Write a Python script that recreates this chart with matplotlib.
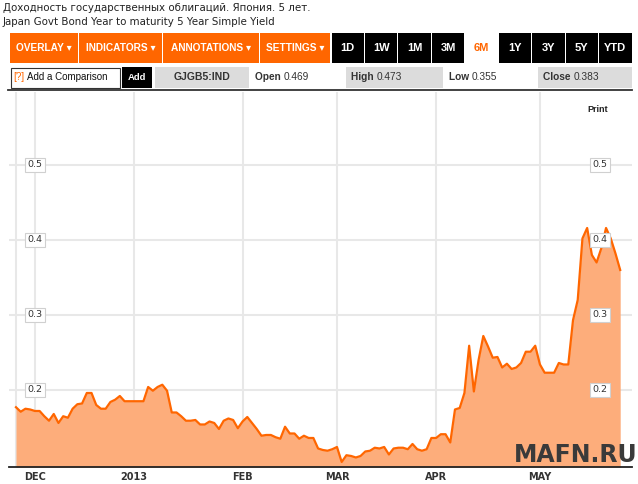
import matplotlib
matplotlib.use("Agg")
import matplotlib.pyplot as plt
from matplotlib.patches import Rectangle
import matplotlib.transforms as mtransforms
import pandas as pd
import numpy as np

plt.rcParams['font.family'] = ['DejaVu Sans']

# ---------------- data ----------------
title_ru = "Доходность государственных облигаций. Япония. 5 лет."
title_en = "Japan Govt Bond Year to maturity 5 Year Simple Yield"
ticker = "GJGB5:IND"
open_v, high_v, low_v, close_v = "0.469", "0.473", "0.355", "0.383"
start_date = "2012-11-27"
yields = [
    0.177, 0.171, 0.175, 0.174, 0.172, 0.172, 0.165, 0.159, 0.168, 0.156,
    0.165, 0.163, 0.175, 0.181, 0.182, 0.196, 0.196, 0.180, 0.175, 0.175,
    0.184, 0.187, 0.192, 0.185, 0.185, 0.185, 0.185, 0.185, 0.204, 0.199,
    0.204, 0.207, 0.199, 0.170, 0.170, 0.165, 0.159, 0.159, 0.160, 0.154,
    0.154, 0.158, 0.156, 0.148, 0.159, 0.162, 0.160, 0.149, 0.158, 0.164,
    0.156, 0.148, 0.139, 0.140, 0.140, 0.137, 0.135, 0.151, 0.142, 0.142,
    0.135, 0.139, 0.136, 0.136, 0.122, 0.120, 0.119, 0.121, 0.124, 0.104,
    0.113, 0.112, 0.110, 0.112, 0.118, 0.119, 0.123, 0.122, 0.124, 0.114,
    0.122, 0.123, 0.123, 0.121, 0.128, 0.121, 0.119, 0.121, 0.136, 0.136,
    0.141, 0.141, 0.130, 0.174, 0.176, 0.196, 0.259, 0.198, 0.240, 0.272,
    0.258, 0.243, 0.244, 0.230, 0.235, 0.228, 0.230, 0.236, 0.251, 0.251,
    0.259, 0.234, 0.223, 0.223, 0.223, 0.236, 0.234, 0.234, 0.293, 0.320,
    0.402, 0.416, 0.380, 0.370, 0.389, 0.416, 0.402, 0.382, 0.360,
]
month_labels = ["DEC", "2013", "FEB", "MAR", "APR", "MAY"]
ytick_vals = [0.2, 0.3, 0.4, 0.5]
overlay_buttons = ["OVERLAY ▾", "INDICATORS ▾", "ANNOTATIONS ▾", "SETTINGS ▾"]
range_buttons = ["1D", "1W", "1M", "3M", "6M", "1Y", "3Y", "5Y", "YTD"]
active_range = "6M"

dates = pd.bdate_range(start_date, periods=len(yields))
idx = np.arange(len(dates))
month_starts = [int(np.argmax((dates.year == y) & (dates.month == m)))
                for y, m in [(2012, 12), (2013, 1), (2013, 2), (2013, 3), (2013, 4), (2013, 5)]]

# ---------------- figure ----------------
W, H = 638, 484
fig = plt.figure(figsize=(W / 100, H / 100), dpi=100)
fig.patch.set_facecolor("white")

ORANGE = "#ff6600"
FILL = "#fdad7b"
GRID = "#e8e8e8"

# chart axes (pixel box 9..632 x 92..467)
L, R, T, B = 9, 632, 92, 467
ax = fig.add_axes([L / W, (H - B) / H, (R - L) / W, (B - T) / H])
ax.set_xlim(-1.48, 130.5)
ax.set_ylim(0.0973, 0.5973)
ax.set_facecolor("white")

ax.fill_between(idx, yields, 0.0973, color=FILL, lw=0, zorder=2)
ax.plot(idx, yields, color=ORANGE, lw=1.6, zorder=3, solid_joinstyle="round")

ax.set_xticks([0] + month_starts)
ax.set_xticklabels([""] + month_labels, fontsize=7, fontweight="bold", color="#333333")
ax.set_yticks(ytick_vals)
ax.tick_params(axis="both", length=0)
ax.tick_params(axis="x", pad=3.5)
ax.tick_params(axis="y", labelleft=False)
ax.grid(True, color=GRID, lw=1.5, zorder=1)
ax.set_axisbelow(True)
for s in ["top", "right", "left"]:
    ax.spines[s].set_visible(False)
ax.spines["bottom"].set_color("#222222")
ax.spines["bottom"].set_linewidth(1.3)
ax.spines["bottom"].set_zorder(5)

trans = mtransforms.blended_transform_factory(ax.transAxes, ax.transData)
for v in ytick_vals:
    for xf in [(35 - L) / (R - L), (600 - L) / (R - L)]:
        ax.text(xf, v, f"{v:.1f}", transform=trans, ha="center", va="center",
                fontsize=6.8, color="#333333", zorder=6,
                bbox=dict(boxstyle="square,pad=0.3", fc="white", ec="#d0d0d0", lw=0.8))

# ---------------- UI chrome (pixel overlay) ----------------
ov = fig.add_axes([0, 0, 1, 1], zorder=10)
ov.set_xlim(0, W)
ov.set_ylim(H, 0)
ov.axis("off")
ov.patch.set_alpha(0)

ov.text(3, 8, title_ru, fontsize=7.4, color="#222222", va="center", ha="left")
ov.text(3, 22, title_en, fontsize=7.4, color="#222222", va="center", ha="left")

btnfont = ["Liberation Sans", "DejaVu Sans"]
# orange menu buttons
obounds = [10, 79, 163, 260, 331]
for i, lab in enumerate(overlay_buttons):
    x0, x1 = obounds[i], obounds[i + 1] - 1
    ov.add_patch(Rectangle((x0, 33), x1 - x0, 30, fc=ORANGE, ec="none"))
    ov.text((x0 + x1) / 2, 48, lab, fontsize=7.3, fontweight="bold", color="white",
            ha="center", va="center", family=btnfont)
# range buttons
bw = (632 - 331) / len(range_buttons)
for i, lab in enumerate(range_buttons):
    x0 = 331 + i * bw
    active = lab == active_range
    ov.add_patch(Rectangle((x0 + 0.5, 33), bw - 1, 30,
                           fc="white" if active else "black", ec="none"))
    ov.text(x0 + bw / 2, 48, lab, fontsize=8, fontweight="bold",
            color=ORANGE if active else "white", ha="center", va="center", family=btnfont)

# second row
ov.add_patch(Rectangle((10.5, 67.5), 109, 20, fc="white", ec="#333333", lw=0.8))
ov.text(13, 77.5, "[?]", fontsize=7, color=ORANGE, va="center", ha="left", family=btnfont)
ov.text(27, 77.5, "Add a Comparison", fontsize=7, color="#111111", va="center", ha="left",
        family=btnfont)
ov.add_patch(Rectangle((122, 67), 30, 21, fc="black", ec="none"))
ov.text(137, 77.5, "Add", fontsize=6.8, fontweight="bold", color="white", va="center",
        ha="center", family=btnfont)
ov.add_patch(Rectangle((155, 67), 94, 21, fc="#dcdcdc", ec="none"))
ov.text(202, 77.5, ticker, fontsize=7.5, fontweight="bold", color="#333333", va="center",
        ha="center", family=btnfont)

for (x0, x1, gray, name, val) in [(250, 345, False, "Open", open_v),
                                  (346, 443, True, "High", high_v),
                                  (444, 537, False, "Low", low_v),
                                  (538, 632, True, "Close", close_v)]:
    if gray:
        ov.add_patch(Rectangle((x0, 67), x1 - x0, 21, fc="#dcdcdc", ec="none"))
    t = ov.text(x0 + 5, 77.5, name + " ", fontsize=7.3, fontweight="bold", color="#333333",
                va="center", ha="left", family=btnfont)
    ov.annotate(val, xycoords=t, xy=(1, 0.5), va="center", ha="left", fontsize=7.3,
                color="#333333", family=btnfont)

ov.plot([8, 632], [90, 90], color="#333333", lw=1.3)
ov.text(598, 110, "Print", fontsize=6.5, fontweight="bold", color="#222222",
        ha="center", va="center", family=btnfont)

# watermark
ov.text(576, 455, "MAFN.RU", fontsize=17, fontweight="bold",
        color="#3a3a3a", ha="center", va="center", zorder=20)

fig.savefig("out.png", dpi=100)
